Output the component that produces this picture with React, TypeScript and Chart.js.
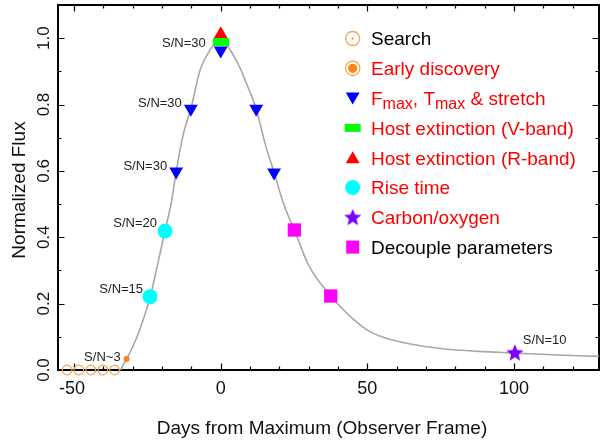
import React, { useEffect, useRef } from "react";
import { Chart, registerables } from "chart.js";
Chart.register(...registerables);

// ---- data ----
const curveDays = [-34.2, -32, -30, -27.7, -24, -21.5, -19, -16.7, -15.2, -12.7, -10.2, -7, -3.6, 0, 3.2, 6.6, 9.4, 12.1, 15.1, 18.2, 21.4, 25.1, 30, 37.5, 41, 45, 50.6, 56, 63.7, 75, 88, 100.3, 115, 129];
const curveFlux = [0, 0.035, 0.07, 0.12, 0.222, 0.32, 0.42, 0.512, 0.598, 0.713, 0.787, 0.905, 0.965, 1.0, 0.965, 0.91, 0.85, 0.787, 0.683, 0.595, 0.502, 0.422, 0.315, 0.223, 0.189, 0.155, 0.117, 0.097, 0.08, 0.065, 0.056, 0.051, 0.045, 0.041];
const searchDays = [-52.4, -48.4, -44.3, -40.2, -36.2];
const searchFlux = [0, 0, 0, 0, 0];
const earlyDays = [-32.1];
const earlyFlux = [0.033];
const fmaxDays = [0, -10.2, -15.2, 12.1, 18.2];
const fmaxFlux = [0.963, 0.787, 0.598, 0.787, 0.595];
const hostVDays = [0];
const hostVFlux = [0.988];
const hostRDays = [0];
const hostRFlux = [1.012];
const riseDays = [-19, -24.1];
const riseFlux = [0.419, 0.221];
const coDays = [100.3];
const coFlux = [0.052];
const decDays = [25.1, 37.5];
const decFlux = [0.422, 0.223];

const xMajorTicks = [-50, 0, 50, 100];
const xMinorStep = 10;
const yMajorTicks = [0, 0.2, 0.4, 0.6, 0.8, 1.0];
const yTickLabels = ["0.0", "0.2", "0.4", "0.6", "0.8", "1.0"];
const yMinorStep = 0.1;

const xTitle = "Days from Maximum (Observer Frame)";
const yTitle = "Normalized Flux";

const legendLabels = ["Search", "Early discovery", "FMAX", "Host extinction (V-band)", "Host extinction (R-band)", "Rise time", "Carbon/oxygen", "Decouple parameters"];
const legendColors = ["#000000", "#FF0000", "#FF0000", "#FF0000", "#FF0000", "#FF0000", "#FF0000", "#000000"];

const snLabels = ["S/N=30", "S/N=30", "S/N=30", "S/N=20", "S/N=15", "S/N~3", "S/N=10"];

const C_SEARCH = "#F6A452";
const C_EARLY = "#FF8414";
const C_BLUE = "#0000FF";
const C_GREEN = "#00FF00";
const C_RED = "#FF0000";
const C_CYAN = "#00FFFF";
const C_PURPLE = "#7A00FF";
const C_MAGENTA = "#FF00FF";

const FONT = "'Liberation Sans', Arial, Helvetica, sans-serif";

function makeStar(outer: number, inner: number, color: string) {
  const s = Math.ceil(outer * 2 + 2);
  const c = document.createElement("canvas");
  c.width = s;
  c.height = s;
  const g = c.getContext("2d")!;
  g.fillStyle = color;
  g.beginPath();
  for (let i = 0; i < 10; i++) {
    const r = i % 2 === 0 ? outer : inner;
    const a = -Math.PI / 2 + (i * Math.PI) / 5;
    g.lineTo(s / 2 + r * Math.cos(a), s / 2 + 0.6 + r * Math.sin(a));
  }
  g.closePath();
  g.fill();
  return c;
}

function makeRect(w: number, h: number, color: string) {
  const c = document.createElement("canvas");
  c.width = w;
  c.height = h;
  const g = c.getContext("2d")!;
  g.fillStyle = color;
  g.fillRect(0, 0, w, h);
  return c;
}

function pts(xs: number[], ys: number[]) {
  return xs.map((x, i) => ({ x, y: ys[i] }));
}

function tri(ctx: CanvasRenderingContext2D, x: number, y: number, r: number, down: boolean, color: string) {
  ctx.beginPath();
  const s = down ? -1 : 1;
  ctx.moveTo(x, y - s * r);
  ctx.lineTo(x + r * Math.sin(Math.PI / 3), y + s * r * 0.5);
  ctx.lineTo(x - r * Math.sin(Math.PI / 3), y + s * r * 0.5);
  ctx.closePath();
  ctx.fillStyle = color;
  ctx.fill();
}

export default function App() {
  const ref = useRef<HTMLCanvasElement | null>(null);
  useEffect(() => {
    document.body.style.margin = "0";
    const canvas = ref.current!;
    const star = makeStar(9, 4, C_PURPLE);
    const greenRect = makeRect(16, 8, C_GREEN);

    const decor = {
      id: "decor",
      beforeDatasetsDraw(chart: any) {
        const ctx = chart.ctx as CanvasRenderingContext2D;
        const xs = chart.scales.x;
        const ys = chart.scales.y;
        const a = chart.chartArea;
        ctx.save();
        ctx.strokeStyle = "#000";
        ctx.lineWidth = 1.2;
        // x ticks bottom/top
        for (let v = Math.ceil(xs.min / xMinorStep) * xMinorStep; v <= xs.max; v += xMinorStep) {
          const px = Math.round(xs.getPixelForValue(v)) + 0.5;
          const major = xMajorTicks.includes(v);
          const len = major ? 6.5 : 3.5;
          ctx.beginPath();
          ctx.moveTo(px, a.bottom);
          ctx.lineTo(px, a.bottom - len);
          ctx.moveTo(px, a.top);
          ctx.lineTo(px, a.top + len);
          ctx.stroke();
        }
        // y ticks left/right
        for (let k = 0; k * yMinorStep <= ys.max + 1e-9; k++) {
          const v = k * yMinorStep;
          const py = Math.round(ys.getPixelForValue(v)) + 0.5;
          const major = k % 2 === 0;
          const len = major ? 6.5 : 3.5;
          ctx.beginPath();
          ctx.moveTo(a.left, py);
          ctx.lineTo(a.left + len, py);
          ctx.moveTo(a.right, py);
          ctx.lineTo(a.right - len, py);
          ctx.stroke();
        }
        // frame
        ctx.lineWidth = 2;
        ctx.strokeRect(a.left, a.top, a.right - a.left, a.bottom - a.top);
        ctx.restore();
      },
      afterDraw(chart: any) {
        const ctx = chart.ctx as CanvasRenderingContext2D;
        const xs = chart.scales.x;
        const ys = chart.scales.y;
        const a = chart.chartArea;
        ctx.save();
        ctx.fillStyle = "#111";
        // x tick labels
        ctx.font = `18px ${FONT}`;
        ctx.textAlign = "center";
        ctx.textBaseline = "alphabetic";
        xMajorTicks.forEach((v) => {
          ctx.fillText(String(v), xs.getPixelForValue(v) - (v < 0 ? 2 : 0), a.bottom + 24);
        });
        // y tick labels rotated
        ctx.font = `17px ${FONT}`;
        yMajorTicks.forEach((v, i) => {
          ctx.save();
          ctx.translate(a.left - 9, ys.getPixelForValue(v));
          ctx.rotate(-Math.PI / 2);
          ctx.textAlign = "center";
          ctx.fillText(yTickLabels[i], 0, 0);
          ctx.restore();
        });
        // titles
        ctx.font = `19px ${FONT}`;
        ctx.textAlign = "center";
        ctx.fillText(xTitle, 322, 434);
        ctx.save();
        ctx.translate(24.5, 190);
        ctx.rotate(-Math.PI / 2);
        ctx.fillText(yTitle, 0, 0);
        ctx.restore();

        // S/N annotations anchored to marker pixels
        const P = (x: number, y: number) => [xs.getPixelForValue(x), ys.getPixelForValue(y)];
        ctx.font = `13px ${FONT}`;
        ctx.fillStyle = "#222";
        ctx.textBaseline = "middle";
        const anchors: [number, number, number, number, CanvasTextAlign][] = [
          [...P(hostVDays[0], hostVFlux[0]), -15, 1.5, "right"],
          [...P(fmaxDays[1], fmaxFlux[1]), -9, -5, "right"],
          [...P(fmaxDays[2], fmaxFlux[2]), -9, -5.5, "right"],
          [...P(riseDays[0], riseFlux[0]), -8, -8, "right"],
          [...P(riseDays[1], riseFlux[1]), -7, -7, "right"],
          [...P(earlyDays[0], earlyFlux[0]), -6, -2, "right"],
          [...P(coDays[0], coFlux[0]), 8, -12, "left"],
        ] as any;
        anchors.forEach((an, i) => {
          ctx.textAlign = an[4];
          ctx.fillText(snLabels[i], an[0] + an[2], an[1] + an[3]);
        });

        // legend
        const mx = 352.7;
        const tx = 371;
        const y0 = 38.5;
        const dy = 29.8;
        ctx.textBaseline = "alphabetic";
        ctx.textAlign = "left";
        legendLabels.forEach((lab, i) => {
          const y = y0 + i * dy;
          if (i === 0) {
            ctx.strokeStyle = C_SEARCH;
            ctx.lineWidth = 1.3;
            ctx.beginPath();
            ctx.arc(mx, y, 7, 0, Math.PI * 2);
            ctx.stroke();
            ctx.fillStyle = C_SEARCH;
            ctx.beginPath();
            ctx.arc(mx, y, 1.2, 0, Math.PI * 2);
            ctx.fill();
          } else if (i === 1) {
            ctx.strokeStyle = C_SEARCH;
            ctx.lineWidth = 1.3;
            ctx.beginPath();
            ctx.arc(mx, y, 7.2, 0, Math.PI * 2);
            ctx.stroke();
            ctx.fillStyle = C_EARLY;
            ctx.beginPath();
            ctx.arc(mx, y, 4.6, 0, Math.PI * 2);
            ctx.fill();
          } else if (i === 2) {
            tri(ctx, mx, y - 1.5, 8, true, C_BLUE);
          } else if (i === 3) {
            ctx.fillStyle = C_GREEN;
            ctx.fillRect(mx - 8, y - 4, 16, 8);
          } else if (i === 4) {
            tri(ctx, mx, y + 1.5, 8, false, C_RED);
          } else if (i === 5) {
            ctx.fillStyle = C_CYAN;
            ctx.beginPath();
            ctx.arc(mx, y, 7.5, 0, Math.PI * 2);
            ctx.fill();
          } else if (i === 6) {
            ctx.drawImage(star, mx - star.width / 2, y - star.height / 2);
          } else if (i === 7) {
            ctx.fillStyle = C_MAGENTA;
            ctx.fillRect(mx - 6.5, y - 6.5, 13, 13);
          }
          ctx.fillStyle = legendColors[i];
          const base = y + 6.8;
          if (lab === "FMAX") {
            let x = tx;
            const seg = (t: string, sub: boolean) => {
              ctx.font = sub ? `16px ${FONT}` : `19px ${FONT}`;
              ctx.fillText(t, x, sub ? base + 4 : base);
              x += ctx.measureText(t).width;
            };
            seg("F", false);
            seg("max", true);
            seg(", T", false);
            seg("max", true);
            seg(" & stretch", false);
          } else {
            ctx.font = `19px ${FONT}`;
            ctx.fillText(lab, tx, base);
          }
        });
        ctx.restore();
      },
    };

    const chart = new Chart(canvas, {
      type: "scatter",
      data: {
        datasets: [
          {
            label: "curve",
            type: "line",
            data: pts(curveDays, curveFlux),
            borderColor: "#A8A8A8",
            borderWidth: 1.6,
            pointRadius: 0,
            cubicInterpolationMode: "monotone",
            fill: false,
            order: 20,
            clip: false,
          } as any,
          {
            label: "Search",
            data: pts(searchDays, searchFlux),
            pointStyle: "circle",
            pointRadius: 4.8,
            backgroundColor: "rgba(255,255,255,0)",
            borderColor: C_SEARCH,
            borderWidth: 1.2,
            order: 9,
            clip: false,
          },
          {
            label: "Early discovery",
            data: pts(earlyDays, earlyFlux),
            pointStyle: "circle",
            pointRadius: 3,
            backgroundColor: C_EARLY,
            borderColor: C_EARLY,
            borderWidth: 0,
            order: 8,
            clip: false,
          },
          {
            label: "Host R",
            data: pts(hostRDays, hostRFlux),
            pointStyle: "triangle",
            pointRadius: 8,
            backgroundColor: C_RED,
            borderWidth: 0,
            order: 4,
            clip: false,
          },
          {
            label: "Fmax",
            data: pts(fmaxDays, fmaxFlux),
            pointStyle: "triangle",
            rotation: 180,
            pointRadius: 8,
            backgroundColor: C_BLUE,
            borderWidth: 0,
            order: 3,
            clip: false,
          },
          {
            label: "Host V",
            data: pts(hostVDays, hostVFlux),
            pointStyle: greenRect,
            pointRadius: 8,
            backgroundColor: C_GREEN,
            borderWidth: 0,
            order: 2,
            clip: false,
          },
          {
            label: "Rise time",
            data: pts(riseDays, riseFlux),
            pointStyle: "circle",
            pointRadius: 7.5,
            backgroundColor: C_CYAN,
            borderWidth: 0,
            order: 5,
            clip: false,
          },
          {
            label: "Carbon/oxygen",
            data: pts(coDays, coFlux),
            pointStyle: star,
            pointRadius: 9,
            backgroundColor: C_PURPLE,
            borderWidth: 0,
            order: 5,
            clip: false,
          },
          {
            label: "Decouple",
            data: pts(decDays, decFlux),
            pointStyle: "rect",
            pointRadius: 9.4,
            backgroundColor: C_MAGENTA,
            borderWidth: 0,
            order: 5,
            clip: false,
          },
        ],
      },
      options: {
        responsive: false,
        animation: false,
        events: [],
        layout: { autoPadding: false, padding: { left: 58, right: 1, top: 5, bottom: 74 } },
        scales: {
          x: { type: "linear", min: -55.5, max: 129, display: false },
          y: { type: "linear", min: 0, max: 1.1, display: false },
        },
        plugins: { legend: { display: false }, tooltip: { enabled: false } },
      },
      plugins: [decor],
    } as any);
    return () => chart.destroy();
  }, []);
  return (
    <div style={{ width: 600, height: 444, position: "relative", background: "#fff" }}>
      <canvas ref={ref} width={600} height={444} style={{ display: "block" }} />
    </div>
  );
}
